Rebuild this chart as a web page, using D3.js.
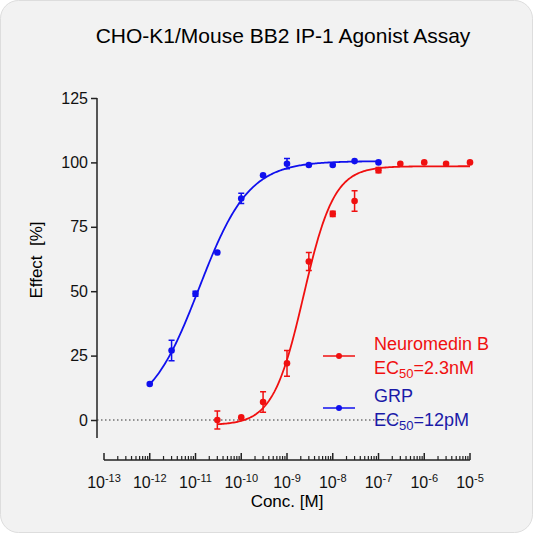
<html>
<head>
<meta charset="utf-8">
<script src="https://cdnjs.cloudflare.com/ajax/libs/d3/7.8.5/d3.min.js"></script>
<style>
body {margin:0; background:#fff;}
text {font-family: Arial, "Liberation Sans", sans-serif;}
</style>
</head>
<body>
<script>
// data
var grpConc = [1e-12, 3e-12, 1e-11, 3e-11, 1e-10, 3e-10, 1e-9, 3e-9, 1e-8, 3e-8, 1e-7]
var grpEffect = [14, 27, 49, 65, 86, 95, 99.5, 99, 99, 100.5, 100]
var grpErr = [0, 4, 1, 0, 2, 0, 2, 0, 0, 0, 0]
var nmbConc = [3e-11, 1e-10, 3e-10, 1e-9, 3e-9, 1e-8, 3e-8, 1e-7, 3e-7, 1e-6, 3e-6, 1e-5]
var nmbEffect = [0, 1, 7, 22, 61.5, 80, 85, 97, 99.5, 100, 99.5, 100]
var nmbErr = [3.5, 0, 4, 5, 3.5, 1, 4, 1, 0, 0, 0, 0]
var yTicks = [0, 25, 50, 75, 100, 125]
var xDecades = [-13, -12, -11, -10, -9, -8, -7, -6, -5]
// fitted curve params: bottom, top, ec50, hill
var grpFit = [2, 100.5, 12e-12, 0.8]
var nmbFit = [-2, 98.5, 2.3e-9, 1.3]

var svg = d3.select('body').append('svg').attr('width', 533).attr('height', 533)
svg.append('rect').attr('x', 0.5).attr('y', 0.5).attr('width', 532).attr('height', 532)
	.attr('rx', 18).attr('fill', '#f2f2f2').attr('stroke', '#ddd')

var x = d3.scaleLog().domain([1e-13, 1e-5]).range([104, 470])
var y = d3.scaleLinear().domain([0, 125]).range([420, 98])

svg.append('text').attr('x', 283).attr('y', 43).attr('text-anchor', 'middle')
	.style('font-size', '21px').text('CHO-K1/Mouse BB2 IP-1 Agonist Assay')

// y axis
var yAxis = d3.axisLeft(y).tickValues(yTicks).tickSize(6)
var gy = svg.append('g').attr('transform', 'translate(97,0)').call(yAxis)
gy.select('.domain').attr('d', 'M0,' + y(125) + 'V' + 438).attr('stroke', '#222').attr('stroke-width', 1.5)
gy.selectAll('.tick line').attr('stroke', '#222').attr('stroke-width', 1.5)
gy.selectAll('.tick text').style('font-size', '16px').attr('fill', '#111')
svg.append('text').attr('transform', 'translate(42,260) rotate(-90)').attr('text-anchor', 'middle')
	.style('font-size', '17px').attr('xml:space', 'preserve').text('Effect  [%]')

// x axis, ticks point up
var xAxisY = 460
svg.append('line').attr('x1', x(1e-13)).attr('x2', x(1e-5)).attr('y1', xAxisY).attr('y2', xAxisY)
	.attr('stroke', '#222').attr('stroke-width', 1.5)
var minor = []
xDecades.slice(0, -1).forEach(function (d) {
	for (var k = 2; k < 10; k++) minor.push(k * Math.pow(10, d))
})
svg.selectAll('.minor').data(minor).enter().append('line')
	.attr('x1', function (d) { return x(d) }).attr('x2', function (d) { return x(d) })
	.attr('y1', xAxisY).attr('y2', xAxisY - 4).attr('stroke', '#222').attr('stroke-width', 1.2)
svg.selectAll('.major').data(xDecades).enter().append('line')
	.attr('x1', function (d) { return x(Math.pow(10, d)) }).attr('x2', function (d) { return x(Math.pow(10, d)) })
	.attr('y1', xAxisY).attr('y2', xAxisY - 7).attr('stroke', '#222').attr('stroke-width', 1.5)
var lab = svg.selectAll('.xl').data(xDecades).enter().append('text')
	.attr('x', function (d) { return x(Math.pow(10, d)) }).attr('y', 488)
	.attr('text-anchor', 'middle').style('font-size', '16px').attr('fill', '#111')
lab.append('tspan').text('10')
lab.append('tspan').attr('dy', -6).style('font-size', '11px').text(function (d) { return d })
svg.append('text').attr('x', 287).attr('y', 507).attr('text-anchor', 'middle')
	.style('font-size', '17px').text('Conc. [M]')

// zero line
svg.append('line').attr('x1', 97).attr('x2', 400).attr('y1', y(0)).attr('y2', y(0))
	.attr('stroke', '#333').attr('stroke-dasharray', '1.5,2.5')

function fitCurve(p, lo, hi) {
	var pts = []
	for (var i = 0; i <= 200; i++) {
		var lc = Math.log10(lo) + (Math.log10(hi) - Math.log10(lo)) * i / 200
		var c = Math.pow(10, lc)
		pts.push([c, p[0] + (p[1] - p[0]) / (1 + Math.pow(p[2] / c, p[3]))])
	}
	return pts
}
var line = d3.line().x(function (d) { return x(d[0]) }).y(function (d) { return y(d[1]) })

function series(conc, eff, err, fit, color) {
	var g = svg.append('g')
	g.append('path').attr('d', line(fitCurve(fit, conc[0], conc[conc.length - 1])))
		.attr('fill', 'none').attr('stroke', color).attr('stroke-width', 1.8)
	conc.forEach(function (c, i) {
		if (err[i] > 0) {
			var cx = x(c)
			g.append('path').attr('d', 'M' + (cx - 3) + ',' + y(eff[i] + err[i]) + 'H' + (cx + 3) +
				'M' + cx + ',' + y(eff[i] + err[i]) + 'V' + y(eff[i] - err[i]) +
				'M' + (cx - 3) + ',' + y(eff[i] - err[i]) + 'H' + (cx + 3))
				.attr('stroke', color).attr('stroke-width', 1.5).attr('fill', 'none')
		}
		g.append('circle').attr('cx', x(c)).attr('cy', y(eff[i])).attr('r', 3.3).attr('fill', color)
	})
}
series(grpConc, grpEffect, grpErr, grpFit, '#1010ee')
series(nmbConc, nmbEffect, nmbErr, nmbFit, '#f01010')

// legend
function legend(yLine, name, ec, color, textColor) {
	svg.append('line').attr('x1', 323).attr('x2', 355).attr('y1', yLine).attr('y2', yLine)
		.attr('stroke', color).attr('stroke-width', 1.5)
	svg.append('circle').attr('cx', 339).attr('cy', yLine).attr('r', 3).attr('fill', color)
	svg.append('text').attr('x', 374).attr('y', yLine - 6).style('font-size', '18px')
		.attr('fill', textColor).text(name)
	var t = svg.append('text').attr('x', 374).attr('y', yLine + 18).style('font-size', '18px').attr('fill', textColor)
	t.append('tspan').text('EC')
	t.append('tspan').attr('dy', 4).style('font-size', '13px').text('50')
	t.append('tspan').attr('dy', -4).text(ec)
}
legend(356, 'Neuromedin B', '=2.3nM', '#f01010', '#f01010')
legend(408, 'GRP', '=12pM', '#1010ee', '#1a1aa8')
</script>
</body>
</html>
